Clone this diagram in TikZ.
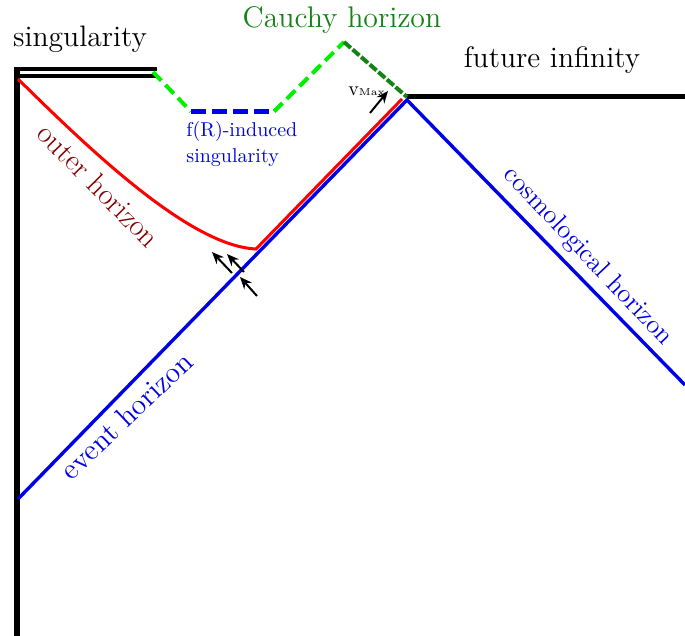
\documentclass[tikz,border=0pt]{standalone}
\usetikzlibrary{arrows.meta}
\definecolor{lgreen}{RGB}{0,240,0}
\definecolor{dgreen}{RGB}{20,130,20}
\definecolor{dred}{RGB}{128,0,0}
\definecolor{hblue}{RGB}{0,0,230}
\begin{document}
\begin{tikzpicture}[x=0.5pt,y=-0.5pt,
  lbl/.style={inner sep=0pt,anchor=base,font=\fontsize{14.8}{17}\selectfont},
  arr/.style={black,line width=1pt,-{Stealth[length=6pt,width=5pt]}},
  hor/.style={hblue,line width=1.7pt},
  lgdash/.style={lgreen,line width=2pt,dash pattern=on 6pt off 3pt},
  bdash/.style={hblue,line width=2.3pt,dash pattern=on 7.5pt off 3pt},
  dgdash/.style={dgreen,line width=2pt,dash pattern=on 4.5pt off 1.2pt},
]
\useasboundingbox (0,0) rectangle (685,636);
% coordinates
\coordinate (dl0) at (16.5,72.5);
\coordinate (dl1) at (157,72.5);
\coordinate (sTL) at (16.5,67);
\coordinate (sB) at (16.5,636);
\coordinate (fiL) at (407,96.5);
\coordinate (fiR) at (685,96.5);
\coordinate (eh0) at (18,499);
\coordinate (apex) at (407,100);
\coordinate (ch1) at (685,385);
\coordinate (oh0) at (18,79);
\coordinate (ohc) at (256,249);
\coordinate (ohE) at (402,99);
\coordinate (c1) at (153,72);
\coordinate (c2) at (191,111.5);
\coordinate (c3) at (274,111.5);
\coordinate (c4) at (344,42);
\coordinate (c5) at (407,97);
% singularity
\draw[line width=1.7pt,double=white,double distance=1.7pt] (dl0) -- (dl1);
\draw[line width=3pt] (sTL) -- (sB);
% future infinity
\draw[line width=2.5pt] (fiL) -- (fiR);
% horizons
\draw[hor] (eh0) -- (apex) -- (ch1);
\draw[red,line width=1.5pt] (oh0) .. controls (90,150) and (190,246) .. (ohc) -- (ohE);
% Cauchy horizon / f(R) singularity
\draw[lgdash] (c1) -- (c2);
\draw[bdash] (c2) -- (c3);
\draw[lgdash] (c3) -- (c4);
\draw[dgdash] (c4) -- (c5);
% arrows
\coordinate (a1s) at (232,273); \coordinate (a1e) at (212,252);
\coordinate (a2s) at (244,272); \coordinate (a2e) at (227,254);
\coordinate (a3s) at (257,296); \coordinate (a3e) at (240,277);
\coordinate (a4s) at (370,113); \coordinate (a4e) at (388,91);
\draw[arr] (a1s) -- (a1e);
\draw[arr] (a2s) -- (a2e);
\draw[arr] (a3s) -- (a3e);
\draw[arr] (a4s) -- (a4e);
% labels
\node[lbl] (sing) at (80,47) {singularity};
\node[lbl,text=dgreen,font=\fontsize{14.9}{17}\selectfont] (cauchy) at (342,28) {Cauchy horizon};
\node[lbl] (fut) at (552,68) {future infinity};
\node[lbl,anchor=base west,text=hblue,font=\fontsize{10}{12}\selectfont] (fr1) at (186,137) {f(R)-induced};
\node[lbl,anchor=base west,text=hblue,font=\fontsize{10}{12}\selectfont] (fr2) at (186,163) {singularity};
\node[lbl,text=dred,rotate=-45.3,font=\fontsize{15}{17}\selectfont] (outer) at (91.4,192.6) {outer horizon};
\node[lbl,text=hblue,rotate=43.5] (event) at (133.4,422.6) {event horizon};
\node[lbl,text=hblue,rotate=-46.5,font=\fontsize{13.3}{16}\selectfont] (cosmo) at (582.9,260.9) {cosmological horizon};
\node[lbl,anchor=base west,font=\fontsize{10}{11}\selectfont] (vmax) at (348,96) {v{\fontsize{5}{6}\selectfont Max}};
\end{tikzpicture}
\end{document}
